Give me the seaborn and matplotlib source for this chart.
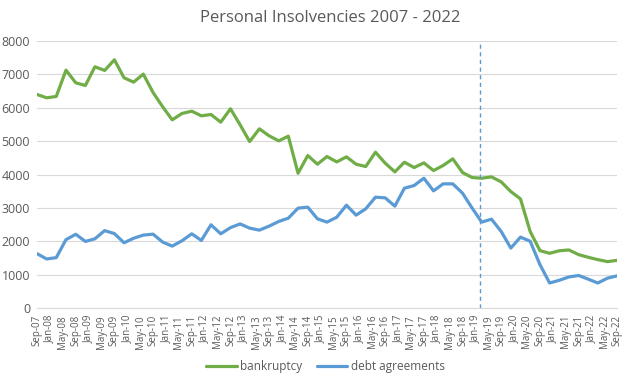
import pandas as pd
import matplotlib
matplotlib.use('Agg')
import matplotlib.pyplot as plt
import matplotlib.dates as mdates
import seaborn as sns

# quarterly observations, Sep-07 .. Sep-22
quarters = pd.date_range('2007-09-01', '2022-09-01', freq='3MS')

bankruptcy = [6400, 6300, 6340, 7130, 6750, 6670, 7230, 7120, 7440, 6900, 6770,
              7010, 6460, 6030, 5640, 5830, 5900, 5760, 5800, 5570, 5970,
              5490, 4990, 5370, 5160, 5010, 5150, 4040, 4570, 4310, 4540,
              4380, 4530, 4310, 4240, 4670, 4340, 4080, 4370, 4210, 4350,
              4120, 4270, 4470, 4060, 3910, 3890, 3930, 3780, 3490, 3270,
              2290, 1720, 1640, 1715, 1740, 1600, 1520, 1450, 1390, 1430]

debt_agreements = [1630, 1470, 1510, 2050, 2210, 1995, 2075, 2320, 2230, 1955, 2090,
                   2185, 2214, 1975, 1855, 2015, 2224, 2025, 2494, 2224, 2410,
                   2520, 2394, 2334, 2454, 2594, 2693, 2993, 3022, 2673, 2574,
                   2720, 3082, 2783, 2973, 3322, 3302, 3052, 3591, 3671, 3890,
                   3511, 3721, 3721, 3441, 2993, 2574, 2663, 2294, 1796, 2125,
                   2000, 1300, 750, 830, 930, 975, 865, 750, 895, 965]

series_names = ['bankruptcy', 'debt agreements']
series_colors = ['#70AD47', '#5B9BD5']
marker_date = pd.Timestamp('2019-02-12')

df = pd.DataFrame({'date': quarters, 'bankruptcy': bankruptcy,
                   'debt agreements': debt_agreements})
long_df = df.melt(id_vars='date', var_name='series', value_name='count')

sns.set_style('white')
plt.rcParams['font.family'] = ['Open Sans', 'DejaVu Sans']

fig = plt.figure(figsize=(6.43, 3.77), dpi=100)
ax = fig.add_axes([0.0575, 0.183, 0.9025, 0.708])

sns.lineplot(data=long_df, x='date', y='count', hue='series',
             hue_order=series_names, palette=series_colors,
             linewidth=2.3, ax=ax, legend=False)

ax.axvline(marker_date, color='#5B9BD5', linestyle=(0, (3, 2.5)), linewidth=1)

ax.set_ylim(0, 8000)
ax.set_yticks(range(0, 8001, 1000))
ax.set_xlim(quarters[0], quarters[-1])
ticks = pd.date_range('2007-09-01', '2022-09-01', freq='4MS')
ax.set_xticks(ticks)
ax.xaxis.set_major_formatter(mdates.DateFormatter('%b-%y'))
ax.tick_params(axis='x', rotation=90, labelsize=7, colors='#595959',
               length=4, width=0.6, direction='out', color='#d9d9d9', pad=1)
ax.tick_params(axis='y', labelsize=9, colors='#595959', length=0, pad=5)
ax.grid(axis='y', color='#d9d9d9', linewidth=0.8)
ax.set_axisbelow(True)
for side in ['top', 'right', 'left']:
    ax.spines[side].set_visible(False)
ax.spines['bottom'].set_color('#d9d9d9')
ax.spines['bottom'].set_linewidth(0.8)
ax.set_xlabel('')
ax.set_ylabel('')

fig.text(0.513, 0.952, 'Personal Insolvencies 2007 - 2022', ha='center', va='center',
         fontsize=12, color='#595959')

handles = [plt.Line2D([], [], color=c, linewidth=2.3) for c in series_colors]
fig.legend(handles, series_names, loc='center', bbox_to_anchor=(0.506, 0.027),
           ncol=2, frameon=False, fontsize=8.5, handlelength=2.6, handletextpad=0.3,
           columnspacing=1.2, labelcolor='#595959')

fig.savefig('out.png', dpi=100)
